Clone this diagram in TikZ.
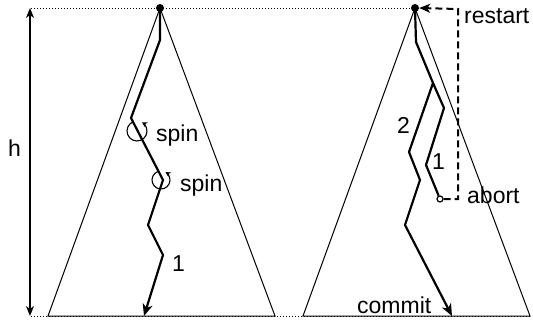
\documentclass[tikz,border=0pt]{standalone}
\usepackage{fontspec}
\setmainfont{Liberation Sans}
\usetikzlibrary{arrows.meta}
\begin{document}
\begin{tikzpicture}[x=1pt,y=-1pt,
  tri/.style={line width=1pt},
  trail/.style={line width=2.2pt, line join=miter},
  lbl/.style={font=\fontsize{23}{27}\selectfont, inner sep=0pt, anchor=base west},
  dotline/.style={line width=0.9pt, dash pattern=on 1pt off 2pt},
  tipped/.style={-{Stealth[length=12pt,width=10pt,inset=3.5pt]}},
  spinarc/.style={line width=1.1pt, -{Stealth[length=5pt,width=5.5pt,inset=1.5pt]}},
  apexdot/.style={circle, fill, inner sep=0pt, minimum size=8pt},
  dashline/.style={line width=2pt, dash pattern=on 7pt off 4pt}
]
\useasboundingbox (0,0) rectangle (533,321);
% guide lines
\draw[dotline] (31,8) -- (415,8);
\draw[dotline] (31,316) -- (530,316);
% triangles
\coordinate (lL) at (48,316);
\coordinate (lR) at (275,316);
\coordinate (rL) at (303,316);
\coordinate (rR) at (530,316);
\node[apexdot] (apexL) at (160,8) {};
\node[apexdot] (apexR) at (415,8) {};
\draw[tri] (lL) -- (apexL.center) -- (lR) -- cycle;
\draw[tri] (rL) -- (apexR.center) -- (rR) -- cycle;
% height
\coordinate (hT) at (30,8);
\coordinate (hB) at (30,316);
\draw[line width=1.5pt, {Stealth[length=10pt,width=8pt,inset=3pt]}-{Stealth[length=10pt,width=8pt,inset=3pt]}] (hB) -- (hT);
\node[lbl] (h) at (8,156) {h};
% left trail
\coordinate (endL) at (144,316);
\draw[trail, tipped] (apexL.center) -- (160,40) -- (131,118) -- (163,180) -- (148,225) -- (163,255) -- (endL);
\draw[spinarc] (137,131) ++(-110:10) arc[start angle=-110, end angle=-420, radius=10];
\draw[spinarc] (161,180) ++(-110:9) arc[start angle=-110, end angle=-420, radius=9];
\node[lbl] (spin1) at (156,141) {spin};
\node[lbl] (spin2) at (180,191) {spin};
\node[lbl] (one) at (172,271) {1};
% right trails
\node[circle, draw, line width=1.2pt, inner sep=0pt, minimum size=6pt] (ab) at (440,199) {};
\coordinate (br) at (433,83);
\draw[trail] (apexR.center) -- (416,42) -- (br) -- (444,108) -- (426,165) -- (ab);
\coordinate (endR) at (452,316);
\draw[trail, tipped] (br) -- (409,152) -- (420,180) -- (405,225) -- (endR);
\draw[dashline, -{Stealth[length=11pt,width=9pt,inset=3pt]}] (ab.east) -- (458,199) -- (458,9) -- (apexR.east);
\node[lbl] (two) at (397,133) {2};
\node[lbl] (oneR) at (432,169) {1};
\node[lbl] (abort) at (467,203) {abort};
\node[lbl] (restart) at (464,24) {restart};
\node[lbl] (commit) at (357,313) {commit};
\end{tikzpicture}
\end{document}
